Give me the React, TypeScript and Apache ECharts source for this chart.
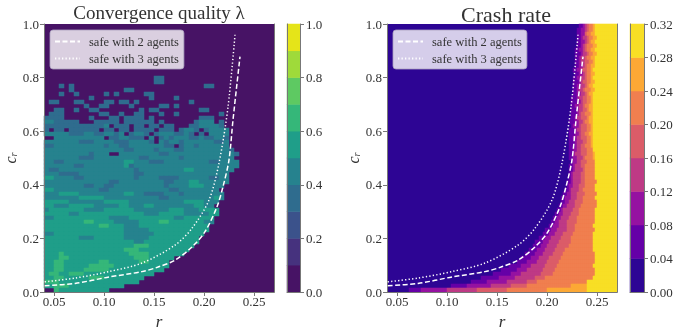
import React, { useEffect, useRef } from "react";
import * as echarts from "echarts";

const FONT = '"Liberation Serif", serif';
const INK = "#333333";
const SPINE = "#777777";

const viridisLevels = ["#471365", "#46327E", "#3B528B", "#2F6C8E", "#26828E", "#1F9E89", "#35B779", "#5EC962", "#9FDA3A", "#E5E419"];
const plasmaLevels = ["#2D0594", "#6500A7", "#9512A1", "#BE3A85", "#DB5C68", "#F07F4F", "#FCA835", "#F8DF25"];

const qualityTicks = [0, 0.2, 0.4, 0.6, 0.8, 1.0];
const crashTicks = [0, 0.04, 0.08, 0.12, 0.16, 0.2, 0.24, 0.28, 0.32];
const rTicks = [0.05, 0.1, 0.15, 0.2, 0.25];

// r, c_r pairs of the two safety curves
const safe2r = [0.0407, 0.071, 0.105, 0.138, 0.154, 0.171, 0.188, 0.201, 0.213, 0.219, 0.225, 0.229, 0.236];
const safe2c = [0.0235, 0.032, 0.056, 0.076, 0.093, 0.119, 0.168, 0.225, 0.318, 0.393, 0.493, 0.642, 0.878];
const safe3r = [0.0407, 0.071, 0.105, 0.138, 0.171, 0.188, 0.205, 0.215, 0.224, 0.231];
const safe3c = [0.038, 0.052, 0.076, 0.108, 0.175, 0.238, 0.343, 0.481, 0.69, 0.96];

// Convergence quality: level per cell, top row first, 67 rows x 46 columns (the first 13 rows are empty)
const qualityEmptyTopRows = 13;
const qualityRows = [
  "..... ..... ..... ..... ..33.",
  "..... ..... ..... ..... ..33.",
  "...3. 3.... ..... ..... ..... ..... ..33.",
  "..... 3.... ..... .33.. ..... ..... .....",
  "...3. .3... ..3.3 ..... 33...",
  "..... ....3 ..... ..... .3... .3...",
  ".33.. .33.. ..33. 33.3. ..... ....3",
  "..... ...3. .33.. ..3.. ...33 .3...",
  "..33. .3..3 3.... ....3 .33.. ..... .33..",
  ".333. ..... .33.. 3..33 ...3. .3... ..... 3",
  "3333. ....3 ...33 .3333 .3... ..... .333.",
  "44333 33... 33333 .3333 33.3. ..... 3444. 3",
  "33333 33333 334.3 33.33 .33.3 3...3 34444 3",
  "3.33. 33333 3.33. 33.33 33.33 3.344 3.344 44",
  "44444 33344 33443 4.344 3.344 43343 .3.44 44",
  "..444 44444 44.33 44333 .4.34 34443 34334 43",
  "44444 44333 44443 33444 43.43 44344 44443 34",
  "33444 44444 44344 33444 44443 3.344 34444 44",
  "44444 44444 44444 43344 44344 43344 44444 443",
  "44444 44443 444.. 44444 44433 44444 44444 4443",
  "44444 44333 44444 44443 34444 44344 44444 444",
  "44334 44444 44444 45544 43334 44444 44433 4444",
  "44444 43344 44444 45344 44444 44444 44444 4444",
  "43344 44444 44444 44434 44444 44455 44444 444",
  "44433 33444 44444 44433 44444 44444 44444 44",
  "55444 43344 44444 44434 44433 33444 44433 44",
  "44444 44444 44433 44444 44443 34445 54444 44",
  "44444 44433 44334 44444 44443 44445 55444 4",
  "55444 44444 43344 44444 44444 33444 44444",
  "44455 55444 44444 45544 33334 44344 44444 4",
  "44444 44555 55444 44444 44433 44444 44445 4",
  "55555 44444 44555 55444 44444 44455 55444 .",
  "55444 55555 44444 55444 55444 44444 5544",
  "45555 55544 44555 55544 44444 55544 45555",
  "55555 44555 55555 55555 44455 55544 44455",
  "44555 55555 55544 44555 55555 54455 5555",
  "55555 55566 55554 44445 55566 55555 5544",
  "55555 55555 56655 54445 55555 55555 555",
  "55555 55555 55555 54444 45555 55555 555",
  "44555 55555 55555 54444 44555 55555 55",
  "55555 55444 55555 54444 45555 55555 5",
  "55555 55555 55555 55544 55555 55555 5",
  "55555 55555 55555 55566 65555 55555",
  "55555 55555 55555 56665 55555 5555",
  "55565 55555 55555 55666 65555 555",
  "55566 55555 55555 55566 65555 5",
  "55665 55555 56655 55556 65555",
  "55665 55556 66665 55555 55555",
  "55665 55566 66655 55555 5555",
  "56655 66655 55555 55555 55",
  "55665 55556 66555 55555",
  "66655 55555 55555 5555",
  "55666 55555 55555 5",
  "..655 55555 555",
];

// Crash rate: r (x 1000) where each level from 1 to 7 begins, top row first, 67 rows
const crashRows = [
  [232, 236, 238, 240, 243, 246, 249], [231, 235, 238, 240, 242, 246, 248], [231, 234, 238, 239, 241, 245, 249],
  [230, 234, 237, 240, 242, 246, 250], [231, 235, 238, 240, 243, 245, 249], [230, 234, 236, 239, 241, 246, 250],
  [229, 233, 236, 238, 241, 244, 248], [229, 234, 237, 240, 242, 246, 250], [228, 233, 235, 239, 241, 245, 249],
  [229, 232, 235, 238, 242, 246, 249], [228, 232, 236, 238, 240, 245, 248], [227, 231, 234, 237, 240, 244, 247],
  [228, 233, 236, 239, 241, 245, 248], [227, 231, 235, 238, 241, 244, 247], [227, 232, 234, 237, 240, 245, 248],
  [226, 231, 235, 238, 240, 243, 247], [226, 230, 233, 236, 239, 244, 248], [226, 231, 234, 238, 241, 243, 246],
  [225, 230, 233, 236, 240, 244, 247], [225, 231, 234, 236, 240, 245, 246], [225, 229, 232, 236, 239, 242, 246],
  [224, 231, 233, 237, 241, 243, 247], [225, 230, 232, 235, 239, 244, 246], [224, 228, 231, 235, 240, 242, 246],
  [223, 229, 232, 236, 239, 243, 247], [224, 227, 233, 235, 241, 245, 247], [223, 229, 231, 235, 240, 245, 246],
  [223, 228, 232, 234, 239, 243, 246], [223, 227, 230, 234, 241, 244, 247], [223, 228, 231, 236, 240, 244, 247],
  [222, 228, 230, 234, 239, 245, 246], [222, 227, 231, 235, 241, 246, 247], [222, 226, 229, 234, 240, 247, 248],
  [222, 226, 230, 236, 239, 247, 248], [224, 227, 230, 235, 240, 248, 248], [223, 227, 229, 235, 239, 248, 248],
  [223, 226, 228, 236, 238, 249, 249], [222, 225, 227, 235, 239, 248, 248], [222, 225, 226, 235, 238, 249, 249],
  [221, 224, 226, 234, 239, 250, 250], [220, 223, 226, 232, 238, 249, 249], [218, 222, 225, 233, 237, 249, 249],
  [216, 220, 225, 231, 238, 250, 250], [215, 219, 224, 230, 237, 249, 249], [214, 218, 223, 229, 236, 251, 251],
  [212, 216, 220, 228, 234, 250, 250], [211, 214, 217, 226, 233, 249, 249], [209, 212, 216, 224, 233, 248, 248],
  [207, 211, 215, 222, 231, 249, 249], [205, 209, 213, 221, 230, 248, 248], [202, 207, 212, 221, 229, 247, 247],
  [199, 204, 210, 220, 228, 248, 248], [197, 202, 208, 217, 227, 247, 247], [193, 199, 205, 214, 225, 247, 247],
  [189, 196, 203, 212, 224, 246, 246], [186, 194, 200, 211, 222, 246, 246], [182, 190, 198, 208, 219, 247, 247],
  [179, 188, 196, 206, 216, 248, 248], [175, 184, 193, 203, 214, 248, 248], [171, 181, 191, 201, 213, 248, 248],
  [163, 174, 185, 199, 210, 247, 247], [155, 170, 180, 197, 208, 248, 248], [146, 164, 175, 194, 206, 249, 249],
  [135, 152, 168, 188, 198, 246, 246], [125, 141, 160, 181, 191, 241, 241], [105, 120, 145, 165, 180, 225, 241],
  [62, 75, 100, 130, 160, 200, 241],
];

const ROWS = 67;
const QUALITY_COLS = 46;
const CRASH_COLS = 115;
const range = (n: number) => Array.from({ length: n }, (_, i) => i);

function qualityCells() {
  const cells: number[][] = [];
  for (let k = 0; k < ROWS; k++) {
    const src = k < qualityEmptyTopRows ? "" : qualityRows[k - qualityEmptyTopRows];
    const row = src.replace(/ /g, "").padEnd(QUALITY_COLS, ".");
    for (let c = 0; c < QUALITY_COLS; c++) {
      if (row[c] !== ".") cells.push([c, ROWS - 1 - k, Number(row[c])]);
    }
  }
  return cells;
}

function crashCells() {
  const cells: number[][] = [];
  crashRows.forEach((bounds, k) => {
    for (let c = 0; c < CRASH_COLS; c++) {
      const r = 40 + (c + 0.5) * 2;
      const level = bounds.filter((b) => b <= r).length;
      if (level > 0) cells.push([c, ROWS - 1 - k, level]);
    }
  });
  return cells;
}

const text = { fontFamily: FONT, color: INK, fontSize: 13 };
const spine = { show: true, lineStyle: { color: SPINE, width: 1 } };
const tick = { show: true, length: 4, lineStyle: { color: SPINE, width: 1 } };

function spineAxis(kind: "x" | "y", gridIndex: number, n: number) {
  return {
    type: "category", gridIndex, data: range(n), z: 5,
    position: kind === "x" ? "top" : "right",
    axisLine: spine, axisTick: { show: false }, axisLabel: { show: false }, splitLine: { show: false },
  };
}

function panelAxes(gridIndex: number, cols: number) {
  return {
    x: [
      spineAxis("x", gridIndex, cols),
      {
        type: "value", gridIndex, min: 0.04, max: 0.27, position: "bottom", z: 5,
        name: "r", nameLocation: "middle", nameGap: 15,
        nameTextStyle: { fontFamily: FONT, fontStyle: "italic", fontSize: 17, color: INK },
        axisLine: spine,
        axisTick: { ...tick, customValues: rTicks },
        axisLabel: { ...text, margin: 3, customValues: rTicks, formatter: (v: number) => v.toFixed(2) },
        splitLine: { show: false },
      },
    ],
    y: [
      spineAxis("y", gridIndex, ROWS),
      {
        type: "value", gridIndex, min: 0, max: 1, interval: 0.2, position: "left", z: 5,
        name: "{c|c}{s|r}", nameLocation: "middle", nameGap: 22,
        nameTextStyle: {
          rich: {
            c: { fontFamily: FONT, fontStyle: "italic", fontSize: 16, color: INK },
            s: { fontFamily: FONT, fontStyle: "italic", fontSize: 10, color: INK, padding: [6, 0, 0, 0] },
          },
        },
        axisLine: spine, axisTick: tick,
        axisLabel: { ...text, margin: 5, formatter: (v: number) => v.toFixed(1) },
        splitLine: { show: false },
      },
    ],
  };
}

function barAxes(gridIndex: number, n: number, max: number, interval: number, ticks: number[], digits: number) {
  return {
    x: {
      type: "category", gridIndex, data: [0], position: "top", z: 5,
      axisLine: spine, axisTick: { show: false }, axisLabel: { show: false },
    },
    y: [
      {
        type: "category", gridIndex, data: range(n), position: "left", z: 5,
        axisLine: spine, axisTick: { show: false }, axisLabel: { show: false },
      },
      {
        type: "value", gridIndex, min: 0, max, interval, position: "right", z: 5,
        axisLine: spine, axisTick: tick,
        axisLabel: { ...text, margin: 6, customValues: ticks, formatter: (v: number) => v.toFixed(digits) },
        splitLine: { show: false },
      },
    ],
  };
}

function curve(name: string, rs: number[], cs: number[], xAxisIndex: number, yAxisIndex: number, type: any) {
  return {
    type: "line", name, xAxisIndex, yAxisIndex, z: 6, silent: true, smooth: 0.3,
    symbol: "none", showSymbol: false,
    itemStyle: { color: "#ffffff", opacity: 0 },
    lineStyle: { color: "#ffffff", width: 1.5, type },
    data: rs.map((r, i) => [r, cs[i]]),
  };
}

function legend(left: number) {
  return {
    left, top: 30, orient: "vertical", z: 10, itemWidth: 25, itemHeight: 10, itemGap: 4,
    padding: [5, 5, 4, 4], borderRadius: 3, borderWidth: 1, borderColor: "rgba(170,160,190,0.8)",
    backgroundColor: "rgba(255,255,255,0.8)",
    selectedMode: false,
    itemStyle: { opacity: 0 },
    textStyle: { fontFamily: FONT, fontSize: 12.5, color: INK, padding: [0, 0, 0, 4], lineHeight: 11, height: 11 },
    data: ["safe with 2 agents", "safe with 3 agents"],
  };
}

function heat(xAxisIndex: number, yAxisIndex: number, data: number[][]) {
  return {
    type: "heatmap", xAxisIndex, yAxisIndex, data, silent: true, z: 2, progressive: 0,
    itemStyle: { borderWidth: 0, opacity: 1 },
    emphasis: { disabled: true },
  };
}

const gridBase = { top: 24, height: 268, outerBoundsMode: "none" };

function App() {
  const ref = useRef<HTMLDivElement>(null);
  useEffect(() => {
    const chart = echarts.init(ref.current!, undefined, { renderer: "svg" });
    const a = panelAxes(0, QUALITY_COLS);
    const b = panelAxes(1, CRASH_COLS);
    const c = barAxes(2, viridisLevels.length, 1, 0.2, qualityTicks, 1);
    const d = barAxes(3, plasmaLevels.length, 0.32, 0.04, crashTicks, 2);
    const safe2 = "safe with 2 agents";
    const safe3 = "safe with 3 agents";
    chart.setOption({
      animation: false,
      backgroundColor: "#ffffff",
      title: [
        { text: "Convergence quality λ", left: 154, top: -2, textAlign: "center", textStyle: { fontFamily: FONT, fontWeight: "normal", fontSize: 19, color: INK } },
        { text: "Crash rate", left: 501, top: -2, textAlign: "center", textStyle: { fontFamily: FONT, fontWeight: "normal", fontSize: 22, color: INK } },
      ],
      grid: [
        { ...gridBase, left: 44, width: 230, show: true, borderWidth: 0, backgroundColor: viridisLevels[0] },
        { ...gridBase, left: 387, width: 230, show: true, borderWidth: 0, backgroundColor: plasmaLevels[0] },
        { ...gridBase, left: 287, width: 13 },
        { ...gridBase, left: 630, width: 14 },
      ],
      legend: [legend(50), legend(393)],
      xAxis: [...a.x, ...b.x, c.x, d.x],
      yAxis: [...a.y, ...b.y, ...c.y, ...d.y],
      visualMap: [
        {
          type: "piecewise", show: false, dimension: 2, seriesIndex: [0, 2],
          pieces: viridisLevels.map((color, value) => ({ value, color, opacity: 1 })),
        },
        {
          type: "piecewise", show: false, dimension: 2, seriesIndex: [1, 3],
          pieces: plasmaLevels.map((color, value) => ({ value, color, opacity: 1 })),
        },
      ],
      series: [
        heat(0, 0, qualityCells()),
        heat(2, 2, crashCells()),
        heat(4, 4, viridisLevels.map((_, i) => [0, i, i])),
        heat(5, 6, plasmaLevels.map((_, i) => [0, i, i])),
        curve(safe2, safe2r, safe2c, 1, 1, [5, 2.5]),
        curve(safe3, safe3r, safe3c, 1, 1, [1.3, 2.2]),
        curve(safe2, safe2r, safe2c, 3, 3, [5, 2.5]),
        curve(safe3, safe3r, safe3c, 3, 3, [1.3, 2.2]),
      ],
    });
    return () => chart.dispose();
  }, []);
  return <div ref={ref} style={{ position: "fixed", left: 0, top: 0, width: 676, height: 332, filter: "blur(0.45px)" }} />;
}

export default App;
